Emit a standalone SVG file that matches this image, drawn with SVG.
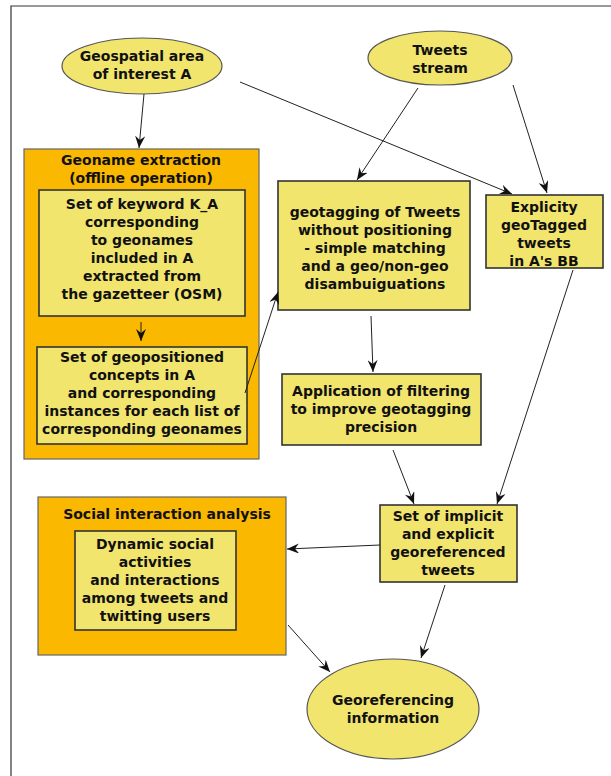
<svg xmlns="http://www.w3.org/2000/svg" width="611" height="776" viewBox="0 0 611 776">
<style>
text{font-family:"DejaVu Sans",sans-serif;font-weight:bold;font-size:14px;fill:#111;text-anchor:middle}
.ell{fill:#f2e56e;stroke:#555;stroke-width:1.2}
.box{fill:#f2e56e;stroke:#333;stroke-width:1.6}
.grp{fill:#fbb800;stroke:#666;stroke-width:1.2}
.c{stroke:#222;stroke-width:1;fill:none;marker-end:url(#ah)}
</style>
<defs>
<marker id="ah" viewBox="0 0 12 10" refX="12" refY="5" markerWidth="12" markerHeight="10" markerUnits="userSpaceOnUse" orient="auto">
<path d="M0,0 L12,5 L0,10 L4,5 z" fill="#111"/>
</marker>
</defs>
<rect x="0" y="0" width="611" height="776" fill="#fff"/>
<path d="M11,776 L11,6 L611,6" fill="none" stroke="#333" stroke-width="1.2"/>

<g id="geoname-extraction">
<rect class="grp" x="24" y="149" width="235" height="310"/>
<text x="141" y="165">Geoname extraction</text>
<text x="141" y="183">(offline operation)</text>
</g>
<g id="keyword-set">
<rect class="box" x="39" y="190" width="206" height="126"/>
<text x="142" y="209">Set of keyword K_A</text>
<text x="142" y="227">corresponding</text>
<text x="142" y="245">to geonames</text>
<text x="142" y="263">included in A</text>
<text x="142" y="281">extracted from</text>
<text x="142" y="299">the gazetteer (OSM)</text>
</g>
<g id="geopositioned-concepts">
<rect class="box" x="37" y="347" width="210" height="97"/>
<text x="142" y="362">Set of geopositioned</text>
<text x="142" y="380">concepts in A</text>
<text x="142" y="398">and corresponding</text>
<text x="142" y="416">instances for each list of</text>
<text x="142" y="434">corresponding geonames</text>
</g>
<g id="social-analysis">
<rect class="grp" x="38" y="497" width="248" height="158"/>
<text x="167" y="519">Social interaction analysis</text>
</g>
<g id="dynamic-social">
<rect class="box" x="75" y="531" width="161" height="99"/>
<text x="155" y="549">Dynamic social</text>
<text x="155" y="567">activities</text>
<text x="155" y="585">and interactions</text>
<text x="155" y="603">among tweets and</text>
<text x="155" y="621">twitting users</text>
</g>
<g id="geospatial-area">
<ellipse class="ell" cx="142" cy="66" rx="80" ry="28"/>
<text x="142" y="61">Geospatial area</text>
<text x="142" y="79">of interest A</text>
</g>
<g id="tweets-stream">
<ellipse class="ell" cx="440" cy="58" rx="72" ry="27"/>
<text x="440" y="55">Tweets</text>
<text x="440" y="73">stream</text>
</g>
<g id="geotagging">
<rect class="box" x="278" y="181" width="192" height="129"/>
<text x="375" y="217">geotagging of Tweets</text>
<text x="375" y="235">without positioning</text>
<text x="375" y="253">- simple matching</text>
<text x="375" y="271">and a geo/non-geo</text>
<text x="375" y="289">disambuiguations</text>
</g>
<g id="explicit-geotagged">
<rect class="box" x="486" y="195" width="117" height="73"/>
<text x="544" y="212">Explicity</text>
<text x="544" y="230">geoTagged</text>
<text x="544" y="248">tweets</text>
<text x="544" y="266">in A's BB</text>
</g>
<g id="filtering">
<rect class="box" x="282" y="374" width="199" height="71"/>
<text x="381" y="396">Application of filtering</text>
<text x="381" y="414">to improve geotagging</text>
<text x="381" y="432">precision</text>
</g>
<g id="georeferenced-tweets">
<rect class="box" x="380" y="505" width="137" height="77"/>
<text x="448" y="521">Set of implicit</text>
<text x="448" y="539">and explicit</text>
<text x="448" y="557">georeferenced</text>
<text x="448" y="575">tweets</text>
</g>
<g id="georeferencing-info">
<ellipse class="ell" cx="393" cy="709" rx="86" ry="50"/>
<text x="393" y="705">Georeferencing</text>
<text x="393" y="723">information</text>
</g>

<g id="connectors">
<path class="c" d="M144,94 L139,148"/>
<path class="c" d="M240,82 L512,194"/>
<path class="c" d="M418,88 L357,180"/>
<path class="c" d="M513,85 L547,193"/>
<path class="c" d="M141,322 L141,341"/>
<path class="c" d="M245,393 L278,292"/>
<path class="c" d="M371,316 L373,372"/>
<path class="c" d="M393,450 L414,504"/>
<path class="c" d="M573,270 L497,504"/>
<path class="c" d="M380,545 L287,549"/>
<path class="c" d="M445,585 L421,658"/>
<path class="c" d="M288,625 L330,672"/>
</g>
</svg>
